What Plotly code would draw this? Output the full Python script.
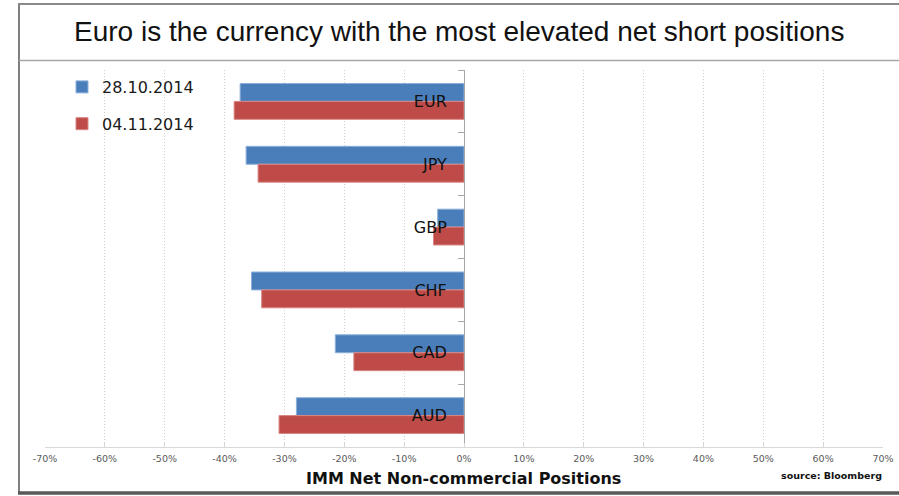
import plotly.graph_objects as go

# ---- data ----
currencies = ["EUR", "JPY", "GBP", "CHF", "CAD", "AUD"]
series_names = ["28.10.2014", "04.11.2014"]
pos_2810 = [-37.4, -36.4, -4.4, -35.5, -21.5, -28.0]
pos_0411 = [-38.4, -34.4, -5.1, -33.8, -18.4, -30.9]
tick_vals = [-70, -60, -50, -40, -30, -20, -10, 0, 10, 20, 30, 40, 50, 60, 70]
tick_labels = ["-70%", "-60%", "-50%", "-40%", "-30%", "-20%", "-10%", "0%",
               "10%", "20%", "30%", "40%", "50%", "60%", "70%"]
title_text = "Euro is the currency with the most elevated net short positions"
axis_title = "IMM Net Non-commercial Positions"
source_text = "source: Bloomberg"

# ---- styling ----
W, H = 899, 496
ML, MR, MT, MB = 45, 16, 70, 49
PW = W - ML - MR
PH = H - MT - MB
colors = ["#4A7EBB", "#BE4B48"]
edge = ["#8DB0DB", "#D98684"]


def px_x(px):
    return (px - ML) / PW


def px_y(py):
    return (H - MB - py) / PH


fig = go.Figure()
for i, (name, vals) in enumerate(zip(series_names, [pos_2810, pos_0411])):
    fig.add_trace(go.Bar(
        y=currencies, x=vals, name=name, orientation="h",
        marker=dict(color=colors[i], line=dict(color=edge[i], width=1)),
        legendgroup=f"g{i}",
    ))

fig.update_layout(
    width=W, height=H,
    margin=dict(l=ML, r=MR, t=MT, b=MB, autoexpand=False),
    paper_bgcolor="white", plot_bgcolor="white",
    barmode="group", bargap=0.43, bargroupgap=0,
    showlegend=True,
    legend=dict(
        x=px_x(62), y=px_y(70), xanchor="left", yanchor="top",
        font=dict(family="DejaVu Sans", size=16, color="#1a1a1a"),
        traceorder="grouped", tracegroupgap=13,
        bgcolor="rgba(0,0,0,0)",
    ),
    xaxis=dict(
        range=[-70, 70], tickvals=tick_vals, ticktext=tick_labels,
        showgrid=True, gridcolor="#D0D0D0", griddash="1px,2px", gridwidth=1,
        zeroline=False, showline=True, linecolor="#D9D9D9", linewidth=1,
        ticks="inside", ticklen=4, tickcolor="#D9D9D9",
        tickfont=dict(family="DejaVu Sans", size=9.5, color="#595959"),
        ticklabelstandoff=3,
        automargin=False, fixedrange=True,
    ),
    yaxis=dict(
        autorange="reversed", type="category",
        anchor="free", position=0.5,
        showline=True, linecolor="#A6A6A6", linewidth=1,
        ticks="outside", ticklen=6, tickcolor="#A6A6A6", tickson="boundaries",
        tickfont=dict(family="DejaVu Sans", size=16, color="#111111"),
        ticklabelstandoff=14,
        showgrid=False, zeroline=False, automargin=False,
    ),
    annotations=[
        dict(text=title_text, xref="paper", yref="paper", x=px_x(459), y=px_y(32),
             xanchor="center", yanchor="middle", showarrow=False,
             font=dict(family="Liberation Sans, Arial", size=28, color="#111111")),
        dict(text=f"<b>{axis_title}</b>", xref="paper", yref="paper", x=px_x(463), y=px_y(478),
             xanchor="center", yanchor="middle", showarrow=False,
             font=dict(family="DejaVu Sans", size=16, color="#111111")),
        dict(text=f"<b>{source_text}</b>", xref="paper", yref="paper", x=px_x(884), y=px_y(475),
             xanchor="right", yanchor="middle", showarrow=False,
             font=dict(family="DejaVu Sans", size=9.5, color="#111111")),
    ],
    shapes=[
        # outer frame (left / top)
        dict(type="line", xref="paper", yref="paper", x0=px_x(19), x1=px_x(19), y0=px_y(4), y1=px_y(493),
             line=dict(color="#7F7F7F", width=2)),
        dict(type="line", xref="paper", yref="paper", x0=px_x(18), x1=px_x(905), y0=px_y(4), y1=px_y(4),
             line=dict(color="#8A8A8A", width=2)),
        # title separator
        dict(type="line", xref="paper", yref="paper", x0=px_x(19), x1=px_x(905), y0=px_y(60.5), y1=px_y(60.5),
             line=dict(color="#A6A6A6", width=1.5)),
        # bottom border
        dict(type="line", xref="paper", yref="paper", x0=px_x(18), x1=px_x(905), y0=px_y(493), y1=px_y(493),
             line=dict(color="#595959", width=3.5)),
    ],
)

fig.write_html("out.html")
